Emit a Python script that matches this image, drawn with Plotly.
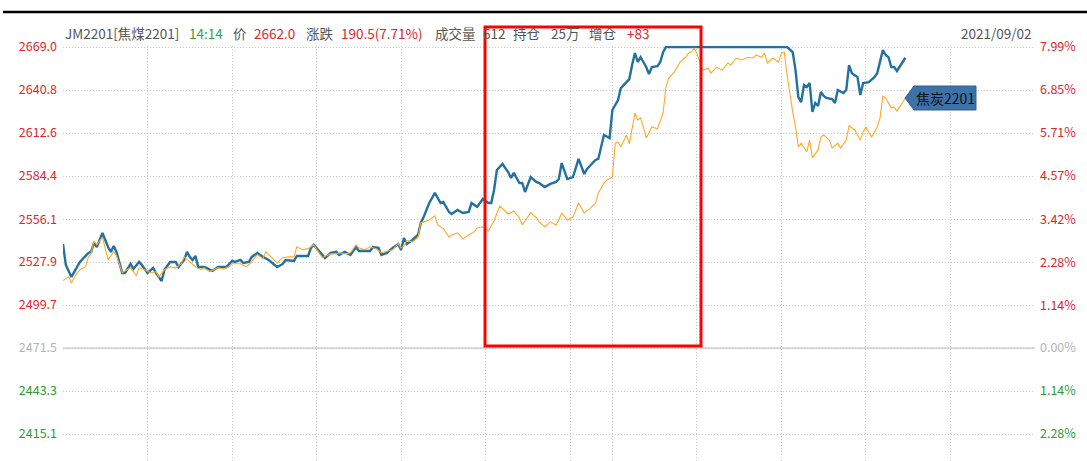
import plotly.graph_objects as go

# ---- data ---------------------------------------------------------------
# minute index within the trading day (21:00 night session = 0, 14:14 = 299)
jm_min = [0, 1, 3, 6, 9, 10, 11, 12, 14, 16, 17, 18, 19, 21, 22, 24, 25, 27, 28, 30,
          32, 33, 35, 36, 38, 40, 41, 43, 44, 45, 46, 47, 48, 50, 51, 53, 55, 58, 60, 61,
          63, 64, 66, 67, 69, 71, 73, 76, 78, 79, 82, 83, 87, 88, 89, 91, 93, 95, 97, 98,
          100, 102, 104, 105, 109, 110, 112, 113, 115, 117, 119, 120, 121, 122, 124, 126,
          127, 128, 130, 132, 134, 135, 137, 138, 140, 142, 144, 145, 147, 149, 151, 152,
          153, 154, 156, 158, 159, 160, 162, 163, 164, 166, 168, 169, 171, 173, 175, 176,
          177, 179, 181, 183, 185, 186, 189, 190, 191, 192, 194, 195, 197, 198, 200, 201,
          202, 203, 204, 205, 206, 207, 208, 209, 211, 212, 213, 214, 257, 259, 260, 261,
          262, 263, 264, 265, 266, 267, 268, 269, 270, 271, 273, 274, 275, 277, 278, 279,
          280, 282, 283, 284, 286, 288, 289, 291, 292, 293, 294, 295, 296, 298, 299]
jm_price = [2539.8, 2526.0, 2518.2, 2528.0, 2533.9, 2534.6, 2540.5, 2537.8, 2547.0, 2537.8,
            2534.6, 2538.5, 2534.6, 2520.8, 2520.8, 2526.7, 2523.4, 2528.0, 2526.0, 2520.8,
            2524.1, 2520.8, 2515.5, 2522.8, 2528.0, 2528.0, 2524.7, 2529.3, 2534.6, 2531.3,
            2529.3, 2532.0, 2524.7, 2524.7, 2524.1, 2522.1, 2524.7, 2524.7, 2528.7, 2528.0,
            2529.3, 2527.3, 2528.0, 2531.3, 2533.9, 2531.3, 2529.3, 2524.7, 2526.7, 2529.3,
            2528.7, 2531.9, 2531.9, 2537.2, 2539.2, 2535.2, 2530.6, 2533.9, 2534.6, 2532.6,
            2534.6, 2532.6, 2537.8, 2535.2, 2535.2, 2537.8, 2537.2, 2532.6, 2533.9, 2537.2,
            2539.8, 2535.9, 2543.7, 2539.8, 2542.4, 2545.7, 2553.6, 2557.5, 2566.7, 2573.3,
            2566.7, 2567.3, 2560.8, 2559.5, 2562.1, 2560.1, 2560.8, 2566.7, 2564.1, 2569.3,
            2566.7, 2566.7, 2575.2, 2588.3, 2592.3, 2587.0, 2583.1, 2586.4, 2579.8, 2579.8,
            2573.9, 2583.7, 2580.5, 2579.8, 2577.2, 2579.2, 2580.5, 2582.4, 2592.9, 2582.4,
            2583.7, 2595.6, 2585.7, 2589.0, 2594.9, 2595.6, 2602.8, 2611.3, 2609.3, 2627.7,
            2634.2, 2642.1, 2646.0, 2648.0, 2657.2, 2665.1, 2659.2, 2662.4, 2659.2, 2655.9,
            2651.3, 2655.9, 2656.5, 2659.2, 2665.7, 2669.0, 2669.0, 2665.7, 2653.9, 2636.2,
            2632.9, 2644.1, 2642.8, 2645.4, 2626.4, 2632.3, 2630.3, 2639.5, 2636.9, 2635.6,
            2634.9, 2632.3, 2640.8, 2638.8, 2640.8, 2657.2, 2651.9, 2649.3, 2637.5, 2645.4,
            2646.0, 2649.3, 2651.9, 2667.0, 2663.8, 2662.4, 2655.9, 2655.9, 2653.3, 2659.2,
            2662.0]

j_min = [0, 2, 3, 5, 6, 8, 9, 10, 11, 12, 14, 15, 16, 18, 19, 21, 23, 24, 26, 27, 29, 31,
         33, 34, 36, 38, 40, 42, 43, 45, 47, 49, 50, 52, 55, 57, 59, 60, 63, 65, 66, 69, 71,
         72, 74, 76, 78, 80, 82, 83, 85, 87, 89, 91, 92, 95, 97, 98, 100, 102, 104, 105, 107,
         109, 111, 113, 115, 117, 119, 120, 121, 122, 124, 126, 127, 128, 130, 132, 133, 135,
         137, 138, 140, 142, 144, 146, 147, 149, 151, 153, 155, 158, 160, 162, 163, 166, 168,
         169, 171, 173, 175, 176, 177, 179, 181, 183, 185, 187, 189, 190, 192, 193, 195, 196,
         197, 198, 200, 201, 202, 203, 204, 205, 206, 207, 208, 209, 211, 213, 214, 215, 217,
         219, 221, 222, 223, 224, 225, 226, 227, 229, 230, 232, 234, 236, 237, 239, 241, 243,
         245, 246, 248, 249, 250, 252, 254, 255, 256, 257, 258, 259, 260, 261, 262, 264, 265,
         266, 268, 269, 270, 272, 273, 275, 276, 278, 279, 281, 283, 284, 285, 287, 289, 290,
         291, 292, 294, 295, 296, 298, 299]
j_pct = [1.79, 1.89, 1.73, 2.00, 2.08, 2.16, 2.42, 2.50, 2.85, 2.74, 2.95, 2.61, 2.34, 2.56,
         2.45, 2.00, 2.10, 2.13, 1.92, 2.13, 2.08, 2.00, 2.03, 1.89, 2.08, 2.16, 2.13, 2.24,
         2.42, 2.29, 2.16, 2.08, 2.13, 2.03, 2.13, 2.10, 2.16, 2.24, 2.24, 2.16, 2.21, 2.48,
         2.37, 2.56, 2.40, 2.26, 2.40, 2.42, 2.42, 2.69, 2.61, 2.64, 2.74, 2.53, 2.40, 2.50,
         2.50, 2.53, 2.50, 2.53, 2.74, 2.66, 2.61, 2.69, 2.64, 2.53, 2.56, 2.61, 2.77, 2.66,
         2.71, 2.85, 2.82, 2.93, 3.32, 3.35, 3.40, 3.51, 3.27, 3.17, 2.95, 3.01, 3.06, 2.90,
         3.01, 3.09, 3.19, 3.22, 3.11, 3.38, 3.77, 3.56, 3.64, 3.46, 3.27, 3.59, 3.46, 3.35,
         3.22, 3.35, 3.27, 3.40, 3.59, 3.40, 3.48, 3.85, 3.59, 3.70, 3.85, 4.12, 4.38, 4.46,
         4.54, 5.44, 5.47, 5.34, 5.66, 5.42, 5.87, 6.24, 6.05, 6.11, 5.87, 5.58, 5.71, 5.87,
         5.82, 6.24, 6.93, 7.17, 7.33, 7.59, 7.72, 7.83, 7.86, 7.96, 7.83, 7.59, 7.38, 7.43,
         7.30, 7.46, 7.38, 7.57, 7.51, 7.70, 7.65, 7.72, 7.70, 7.78, 7.72, 7.83, 7.57, 7.70,
         7.59, 7.83, 7.86, 7.25, 6.72, 6.27, 5.87, 5.34, 5.44, 5.21, 5.52, 5.05, 5.26, 5.60,
         5.66, 5.52, 5.31, 5.44, 5.31, 5.52, 5.90, 5.79, 5.52, 5.74, 5.87, 5.60, 5.87, 6.11,
         6.69, 6.64, 6.37, 6.40, 6.29, 6.53, 6.64]

base_price = 2471.5
y_ticks = [2669.0, 2640.8, 2612.6, 2584.4, 2556.1, 2527.9, 2499.7, 2471.5, 2443.3, 2415.1]
pct_ticks = [7.99, 6.85, 5.71, 4.57, 3.42, 2.28, 1.14, 0.00, -1.14, -2.28]
x_grid = [0, 30, 60, 90, 120, 150, 180, 195, 225, 255, 285, 315, 345]

# ---- styling ------------------------------------------------------------
W, H = 1087, 461
L, R, T, B = 63, 52, 46, 0
FONT = "Noto Sans CJK SC, Noto Sans, sans-serif"
RED, GREEN, GRAY = "#e0252b", "#2f9a34", "#b4b4b4"
TXT = "#555555"
GRID = "#cbcbcb"

y_lo, y_hi = 2397.4, 2669.7
p_lo = (y_lo - base_price) / base_price * 100
p_hi = (y_hi - base_price) / base_price * 100


def col(v):
    return RED if v > 0 else (GREEN if v < 0 else GRAY)


def px(x):
    return (x - L) / (W - L - R)


def py(y):
    return (H - y) / (H - T - B)


left_text = [f'<span style="color:{col(v - base_price)}">{v:.1f}</span>' for v in y_ticks]
right_text = [f'<span style="color:{col(v)}">{abs(v):.2f}%</span>' for v in pct_ticks]

fig = go.Figure()

fig.add_trace(go.Scatter(x=j_min, y=j_pct, yaxis="y2", mode="lines",
                         line=dict(color="#ffa929", width=1.1), hoverinfo="skip"))
fig.add_trace(go.Scatter(x=jm_min, y=jm_price, mode="lines",
                         line=dict(color="#23719e", width=2.4), hoverinfo="skip"))

fig.update_layout(
    width=W, height=H,
    margin=dict(l=L, r=R, t=T, b=B),
    paper_bgcolor="white", plot_bgcolor="white",
    showlegend=False,
    font=dict(family=FONT, size=12, color=TXT),
    xaxis=dict(range=[0, 345], tickvals=x_grid, showticklabels=False, ticks="",
               showgrid=True, gridcolor=GRID, griddash="1px,2px", gridwidth=1,
               zeroline=False, showline=False),
    yaxis=dict(range=[y_lo, y_hi], tickvals=y_ticks, ticktext=left_text, ticks="",
               showgrid=True, gridcolor=GRID, griddash="1px,2px", gridwidth=1,
               zeroline=False, showline=False, ticklabelstandoff=5,
               tickfont=dict(size=12.5, family=FONT)),
    yaxis2=dict(range=[p_lo, p_hi], overlaying="y", side="right", tickvals=pct_ticks,
                ticktext=right_text, ticks="", showgrid=False, zeroline=False,
                showline=False, ticklabelstandoff=4,
                tickfont=dict(size=12.5, family=FONT)),
)

shapes = [
    # zero line
    dict(type="line", xref="paper", yref="y", x0=0, x1=1, y0=base_price, y1=base_price,
         line=dict(color="#dcdcdc", width=2.2), layer="between"),
    # top black rule
    dict(type="line", xref="paper", yref="paper", x0=px(3), x1=px(1087), y0=py(12), y1=py(12),
         line=dict(color="black", width=2.5)),
    # red highlight box
    dict(type="rect", xref="paper", yref="paper", x0=px(485), x1=px(701), y0=py(346), y1=py(27),
         line=dict(color="#ff0000", width=3), layer="above"),
    # label tag
    dict(type="path", xref="paper", yref="paper",
         path=(f"M {px(905)} {py(98)} L {px(914)} {py(86)} L {px(976)} {py(86)} "
               f"L {px(976)} {py(110)} L {px(914)} {py(110)} Z"),
         fillcolor="#3d72a8", line=dict(color="#2f5f90", width=1), layer="above"),
]
fig.update_layout(shapes=shapes)

header = [
    ("JM2201[焦煤2201]", 63, TXT),
    ("14:14", 187, "#2fa53a"),
    ("价", 231, TXT),
    ("2662.0", 252, RED),
    ("涨跌", 304, TXT),
    ("190.5(7.71%)", 339, RED),
    ("成交量", 433, TXT),
    ("612", 481, TXT),
    ("持仓", 511, TXT),
    ("25万", 549, TXT),
    ("增仓", 587, TXT),
    ("+83", 625, RED),
]
ann = [dict(text=t, x=px(x0), y=py(33), xref="paper", yref="paper", xanchor="left",
            yanchor="middle", showarrow=False, font=dict(size=13.5, color=c, family=FONT))
       for t, x0, c in header]
ann.append(dict(text="2021/09/02", x=px(1034), y=py(33), xref="paper", yref="paper",
                xanchor="right", yanchor="middle", showarrow=False,
                font=dict(size=13.5, color=TXT, family=FONT)))
ann.append(dict(text="焦炭2201", x=px(945), y=py(98), xref="paper", yref="paper",
                xanchor="center", yanchor="middle", showarrow=False,
                font=dict(size=14, color="#111111", family=FONT)))
fig.update_layout(annotations=ann)

fig.write_html("out.html", config={"displayModeBar": False},
               post_script="document.body.style.margin='0px';")
